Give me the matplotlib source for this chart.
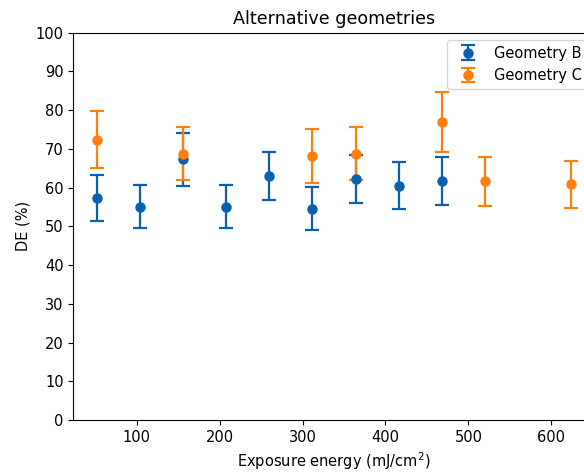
import matplotlib
matplotlib.use('Agg')
import matplotlib.pyplot as plt

# Geometry B
x_b = [52, 104, 156, 208, 260, 312, 364, 416, 468]
de_b = [57.4, 55.1, 67.3, 55.1, 63.1, 54.6, 62.3, 60.5, 61.8]
err_b = [5.9, 5.6, 6.8, 5.6, 6.2, 5.5, 6.2, 6.1, 6.2]

# Geometry C
x_c = [52, 156, 312, 364, 468, 520, 624]
de_c = [72.4, 68.8, 68.2, 68.8, 77.0, 61.6, 60.9]
err_c = [7.3, 6.9, 7.0, 6.9, 7.7, 6.3, 6.1]

plt.rcParams['font.size'] = 10.5

fig = plt.figure(figsize=(5.84, 4.72), dpi=100)
# axes run past the right edge, like the cropped original
ax = fig.add_axes([0.1255, 0.110, 0.893, 0.8207])

ax.errorbar(x_b, de_b, yerr=err_b, fmt='o', color='#0a60b0', capsize=5,
            markersize=6.5, elinewidth=1.6, capthick=1.6, label='Geometry B')
ax.errorbar(x_c, de_c, yerr=err_c, fmt='o', color='#ff7f0e', capsize=5,
            markersize=6.5, elinewidth=1.6, capthick=1.6, label='Geometry C')

ax.set_ylim(0, 100)
ax.set_yticks(range(0, 101, 10))
ax.set_xticks(range(100, 601, 100))
ax.set_xlabel(r'Exposure energy (mJ/cm$^2$)')
ax.set_ylabel('DE (%)')
ax.set_title('Alternative geometries', fontsize=12.6)
ax.legend(loc='upper right')

fig.savefig('out.png', dpi=100)
plt.close(fig)
